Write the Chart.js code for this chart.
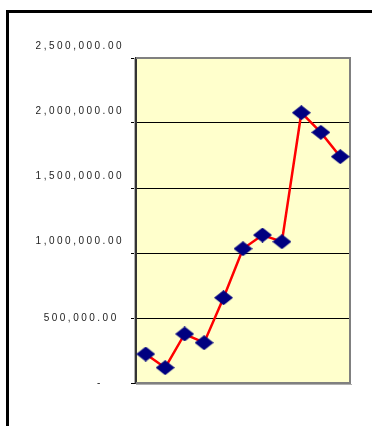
<!DOCTYPE html>
<html>
<head>
<meta charset="utf-8">
<script src="https://cdn.jsdelivr.net/npm/chart.js@4/dist/chart.umd.min.js"></script>
<style>
  html, body { margin: 0; padding: 0; background: #ffffff; }
  canvas { display: block; }
</style>
</head>
<body>
<canvas id="chart" width="372" height="426"></canvas>
<script>
// Period index along the horizontal axis (no labels shown)
const categories = ['1', '2', '3', '4', '5', '6', '7', '8', '9', '10', '11'];
// Yearly amounts
const seriesValues = [223000, 118000, 377000, 310000, 656000, 1033000, 1138000, 1087000, 2079000, 1928000, 1741000];
// Value axis ticks and their accounting-style labels
const tickValues = [0, 500000, 1000000, 1500000, 2000000, 2500000];
const tickLabels = ['-', '500,000.00', '1,000,000.00', '1,500,000.00', '2,000,000.00', '2,500,000.00'];

// Navy diamond marker
const diamond = document.createElement('canvas');
diamond.width = 19;
diamond.height = 15;
(function () {
  const d = diamond.getContext('2d');
  d.fillStyle = '#000080';
  d.beginPath();
  d.moveTo(9.5, 0);
  d.lineTo(19, 7.5);
  d.lineTo(9.5, 15);
  d.lineTo(0, 7.5);
  d.closePath();
  d.fill();
})();

const frame = {
  id: 'frame',
  beforeUpdate(chart) { chart.ctx.letterSpacing = '2.5px'; },
  beforeDraw(chart) {
    const { ctx, chartArea: a } = chart;
    ctx.letterSpacing = '2.5px';
    ctx.save();
    ctx.letterSpacing = '0px';
    ctx.fillStyle = '#ffffff';
    ctx.fillRect(0, 0, chart.width, chart.height);
    ctx.fillStyle = '#FFFFCC';
    ctx.fillRect(a.left, a.top, a.right - a.left, a.bottom - a.top);
    ctx.restore();
  },
  beforeDatasetsDraw(chart) {
    const { ctx, chartArea: a } = chart;
    ctx.save();
    ctx.lineWidth = 1;
    ctx.strokeStyle = '#b0b0b0';
    ctx.beginPath();
    ctx.moveTo(a.left - 1.5, a.top);
    ctx.lineTo(a.left - 1.5, a.bottom);
    ctx.moveTo(a.left, a.bottom + 1.5);
    ctx.lineTo(a.right + 2, a.bottom + 1.5);
    ctx.stroke();
    ctx.lineWidth = 2;
    ctx.strokeStyle = '#808080';
    ctx.beginPath();
    ctx.moveTo(a.left, a.top);
    ctx.lineTo(a.right, a.top);
    ctx.lineTo(a.right, a.bottom);
    ctx.lineTo(a.left, a.bottom);
    ctx.stroke();
    ctx.restore();
  },
  afterDraw(chart) {
    const ctx = chart.ctx;
    ctx.save();
    ctx.lineWidth = 3;
    ctx.strokeStyle = '#000000';
    ctx.strokeRect(7.5, 11.5, 420, 460);
    ctx.restore();
  }
};

function axisLabel(value) {
  const i = tickValues.indexOf(value);
  if (i < 0) return '';
  const text = tickLabels[i];
  if (value === 0) return text + '    ';
  if (value < 1000000) return text + ' ';
  // longer labels sit half a line above their gridline
  return [text, ''];
}

new Chart(document.getElementById('chart'), {
  type: 'line',
  data: {
    labels: categories,
    datasets: [{
      data: seriesValues,
      borderColor: '#FF0000',
      borderWidth: 2.5,
      tension: 0,
      pointStyle: diamond,
      pointRadius: 9,
      pointHoverRadius: 9,
      backgroundColor: '#000080'
    }]
  },
  options: {
    responsive: false,
    animation: false,
    events: [],
    layout: { padding: { left: 0, top: 58, right: 22, bottom: 43 } },
    plugins: { legend: { display: false }, tooltip: { enabled: false } },
    scales: {
      x: { display: false, offset: true },
      y: {
        min: 0,
        max: 2500000,
        afterFit(scale) { scale.width = 136; },
        afterBuildTicks(scale) { scale.ticks = tickValues.map(v => ({ value: v })); },
        border: { display: true, color: '#333333', width: 2 },
        grid: {
          color: (c) => (c.tick && (c.tick.value === 0 || c.tick.value === 2500000)) ? 'rgba(0,0,0,0)' : '#000000',
          tickColor: '#000000',
          tickLength: 5,
          lineWidth: 1,
          drawTicks: true
        },
        ticks: {
          padding: 7,
          color: '#222222',
          font: { family: '"Liberation Sans", Arial, sans-serif', size: 10, lineHeight: '23px' },
          callback: (value) => axisLabel(value)
        }
      }
    }
  },
  plugins: [frame]
});
</script>
</body>
</html>
